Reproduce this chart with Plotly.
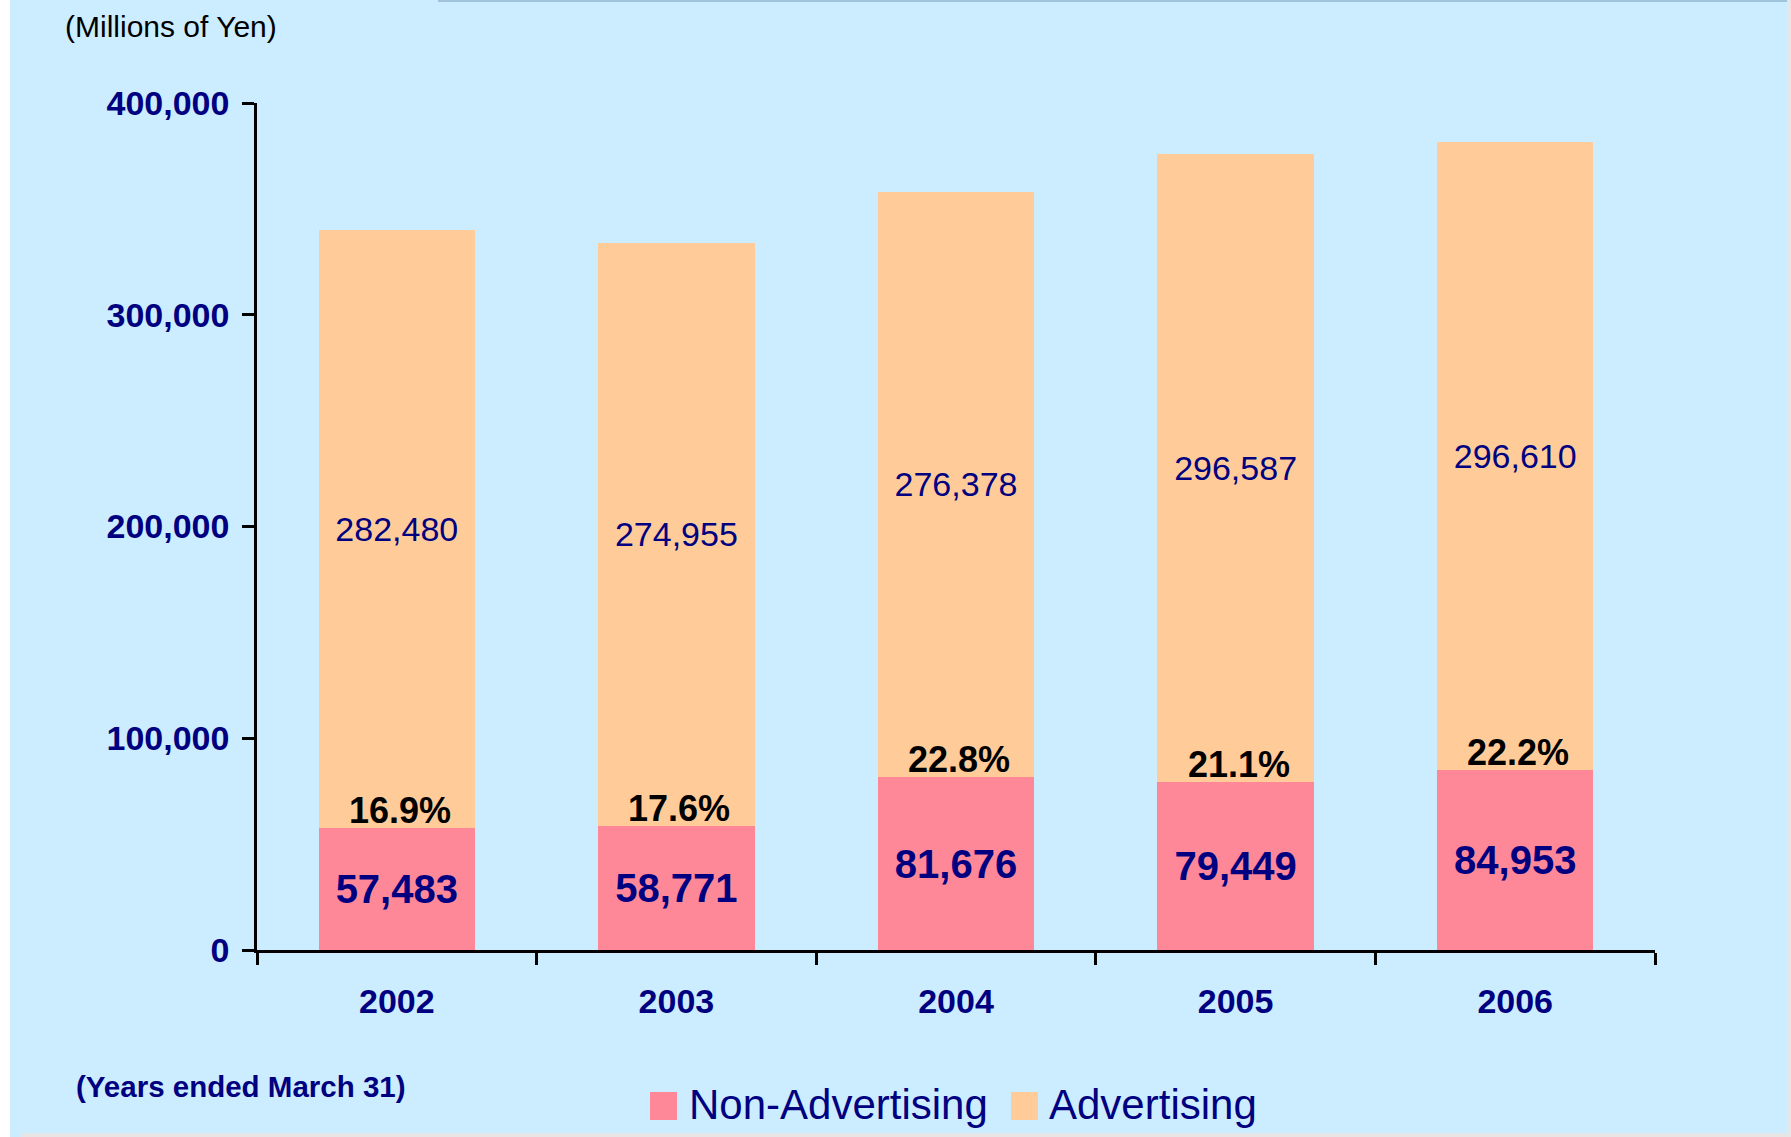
import plotly.graph_objects as go

# ---- data ----
years = ["2002", "2003", "2004", "2005", "2006"]
non_advertising = [57483, 58771, 81676, 79449, 84953]
advertising = [282480, 274955, 276378, 296587, 296610]
pct_labels = ["16.9%", "17.6%", "22.8%", "21.1%", "22.2%"]
y_ticks = [0, 100000, 200000, 300000, 400000]
y_ticktext = ["0", "100,000", "200,000", "300,000", "400,000"]

# ---- style ----
W, H = 1791, 1137
L, R, T, B = 257, 136, 103, 187
PINK = "#FF8898"
PEACH = "#FFCC99"
NAVY = "#000080"
BG = "#CCECFF"
FONT = "Liberation Sans, Arial, sans-serif"


def px(x):
    return (x - L) / (W - L - R)


def py(y):
    return (H - B - y) / (H - T - B)


fig = go.Figure()
fig.add_trace(go.Bar(
    x=years, y=non_advertising, name="Non-Advertising",
    marker=dict(color=PINK, line=dict(width=0)),
    text=[f"<b>{v:,}</b>" for v in non_advertising],
    textposition="inside", insidetextanchor="middle", constraintext="none",
    textfont=dict(family=FONT, size=40, color=NAVY),
    showlegend=False,
))
fig.add_trace(go.Bar(
    x=years, y=advertising, name="Advertising",
    marker=dict(color=PEACH, line=dict(width=0)),
    text=[f"{v:,}" for v in advertising],
    textposition="inside", insidetextanchor="middle", constraintext="none",
    textfont=dict(family=FONT, size=34, color=NAVY),
    showlegend=False,
))

annotations = []
for i, (v, p) in enumerate(zip(non_advertising, pct_labels)):
    annotations.append(dict(
        x=i, y=v, xref="x", yref="y", text=f"<b>{p}</b>", showarrow=False,
        yanchor="bottom", yshift=-5, xshift=3,
        font=dict(family=FONT, size=36, color="black"),
    ))

annotations.append(dict(
    x=px(63), y=py(26), xref="paper", yref="paper", xanchor="left", yanchor="middle",
    text="(Millions of Yen)", showarrow=False,
    font=dict(family=FONT, size=30, color="black"),
))
annotations.append(dict(
    x=px(74), y=py(1086), xref="paper", yref="paper", xanchor="left", yanchor="middle",
    text="<b>(Years ended March 31)</b>", showarrow=False,
    font=dict(family=FONT, size=29.5, color=NAVY),
))
# legend
leg_items = [("Non-Advertising", PINK, 650, 687), ("Advertising", PEACH, 1011, 1047)]
shapes = [
    dict(type="rect", xref="paper", yref="paper", x0=px(0), x1=px(10), y0=py(0), y1=py(H),
         fillcolor="white", line=dict(width=0), layer="below"),
    dict(type="rect", xref="paper", yref="paper", x0=px(22), x1=px(W), y0=py(1133), y1=py(H),
         fillcolor="#E6E6E6", line=dict(width=0), layer="below"),
    dict(type="rect", xref="paper", yref="paper", x0=px(1787), x1=px(W), y0=py(0), y1=py(H),
         fillcolor="#E6E6E6", line=dict(width=0), layer="below"),
    dict(type="rect", xref="paper", yref="paper", x0=px(438), x1=px(1787), y0=py(0), y1=py(2),
         fillcolor="#A0C4DC", line=dict(width=0), layer="below"),
]
for name, col, sx, tx in leg_items:
    shapes.append(dict(type="rect", xref="paper", yref="paper",
                       x0=px(sx), x1=px(sx + 27), y0=py(1092), y1=py(1120),
                       fillcolor=col, line=dict(width=0)))
    annotations.append(dict(
        x=px(tx), y=py(1104), xref="paper", yref="paper", xanchor="left", yanchor="middle",
        text=name, showarrow=False, font=dict(family=FONT, size=42, color=NAVY),
    ))

fig.update_layout(
    width=W, height=H,
    margin=dict(l=L, r=R, t=T, b=B, pad=0),
    paper_bgcolor=BG, plot_bgcolor=BG,
    barmode="stack", bargap=0.44,
    showlegend=False,
    font=dict(family=FONT),
    annotations=annotations,
    shapes=shapes,
    xaxis=dict(
        type="category", range=[-0.5, len(years) - 0.5], autorange=False,
        tickson="boundaries", ticks="outside", ticklen=12,
        tickwidth=2.5, tickcolor="black",
        showline=True, linecolor="black", linewidth=2.5, showgrid=False,
        tickfont=dict(family=FONT, size=34, color=NAVY, weight="bold"),
        ticklabelstandoff=19,
    ),
    yaxis=dict(
        range=[0, 400000], autorange=False, tickvals=y_ticks, ticktext=y_ticktext,
        ticks="outside", ticklen=12, tickwidth=2.5, tickcolor="black",
        showline=True, linecolor="black", linewidth=2.5, showgrid=False, zeroline=False,
        tickfont=dict(family=FONT, size=34, color=NAVY, weight="bold"),
        ticklabelstandoff=6,
    ),
)

fig.write_html(
    "out.html",
    config={"displayModeBar": False},
    post_script="document.body.style.margin='0';document.body.style.overflow='hidden';",
)
